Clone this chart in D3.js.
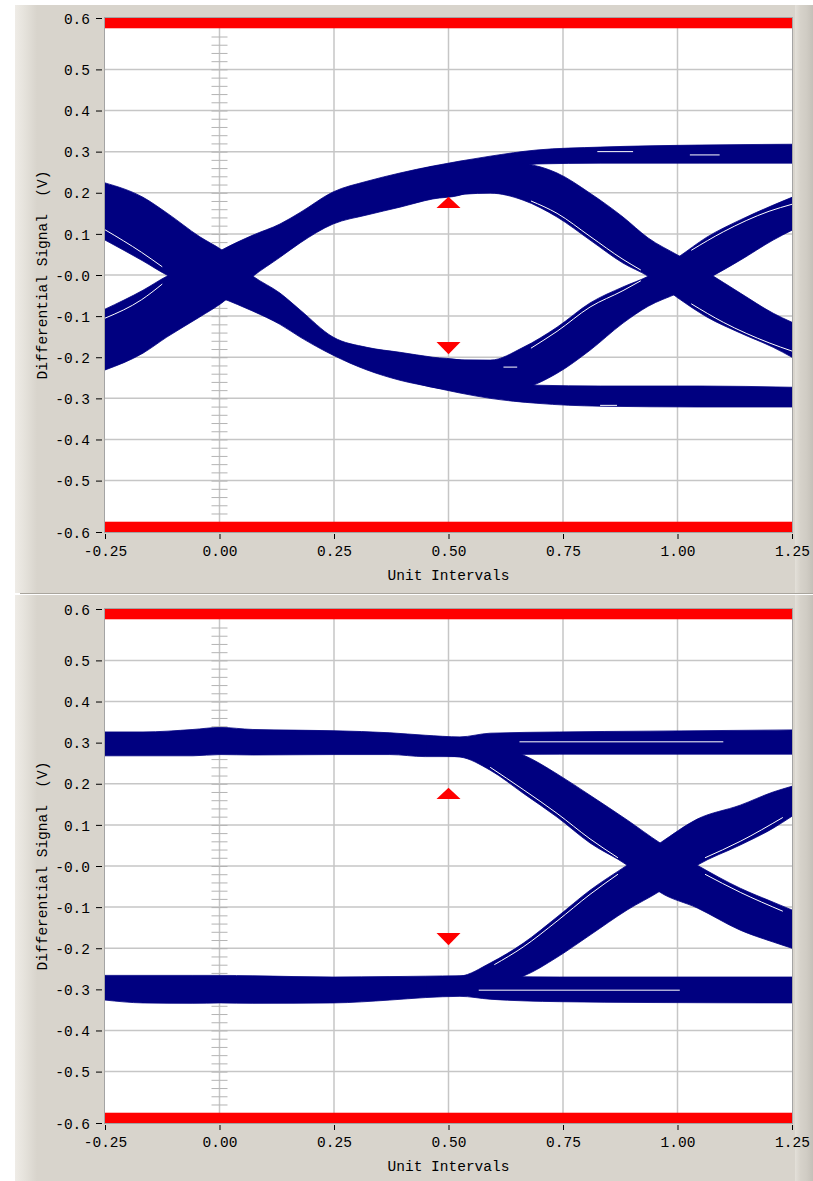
<!DOCTYPE html>
<html>
<head>
<meta charset="utf-8">
<script src="https://cdn.jsdelivr.net/npm/d3@7"></script>
<style>
  body { margin: 0; background: #ffffff; }
  svg { display: block; }
  text { font-family: 'Liberation Mono', 'DejaVu Sans Mono', monospace; font-size: 14.5px; fill: #000; }
</style>
</head>
<body>
<script>
'use strict';

// axis ticks, in unit intervals (x) and volts (y)
const xTicks = [-0.25, 0, 0.25, 0.5, 0.75, 1.0, 1.25];
const xTickLabels = ['-0.25', '0.00', '0.25', '0.50', '0.75', '1.00', '1.25'];
const xGridLines = [0, 0.25, 0.5, 0.75, 1.0];
const yTicks = [0.625, 0.5, 0.4, 0.3, 0.2, 0.1, 0, -0.1, -0.2, -0.3, -0.4, -0.5, -0.625];
const yTickLabels = ['0.6', '0.5', '0.4', '0.3', '0.2', '0.1', '-0.0', '-0.1', '-0.2', '-0.3', '-0.4', '-0.5', '-0.6'];
const yGridLines = [0.5, 0.4, 0.3, 0.2, 0.1, 0, -0.1, -0.2, -0.3, -0.4, -0.5];

// eye mask: red limit bands and the two hexagon tips at 0.5 UI  [UI, base V, apex V]
const maskBands = [[0.6, 0.625], [-0.625, -0.6]];
const maskMarkers = [[0.5, 0.163, 0.190], [0.5, -0.163, -0.193]];

// upper eye: trace bands as [UI, upper edge V, lower edge V]
const eye1Upper = [
  [-0.25, -0.083, -0.231], [-0.167, -0.037, -0.190], [-0.115, -0.003, -0.151],
  [-0.043, 0.031, -0.102], [0.005, 0.061, -0.068], [0.073, 0.097, -0.003],
  [0.132, 0.124, 0.043], [0.176, 0.152, 0.078], [0.248, 0.202, 0.124],
  [0.322, 0.228, 0.146], [0.394, 0.248, 0.165], [0.466, 0.265, 0.185],
  [0.525, 0.277, 0.194], [0.591, 0.289, 0.231], [0.693, 0.304, 0.270],
  [0.831, 0.311, 0.272], [1.049, 0.316, 0.272], [1.25, 0.318, 0.272]
];
const eye1Lower = [
  [-0.25, 0.224, 0.085], [-0.167, 0.189, 0.034], [-0.115, 0.151, 0.000],
  [-0.043, 0.093, -0.034], [0.005, 0.061, -0.056], [0.073, -0.003, -0.088],
  [0.132, -0.044, -0.120], [0.176, -0.085, -0.151], [0.248, -0.151, -0.195],
  [0.322, -0.176, -0.231], [0.394, -0.188, -0.256], [0.466, -0.200, -0.273],
  [0.525, -0.207, -0.287], [0.591, -0.231, -0.300], [0.693, -0.268, -0.312],
  [0.831, -0.270, -0.319], [1.049, -0.270, -0.321], [1.25, -0.273, -0.321]
];
const eye1Fall = [
  [0.400, 0.244, 0.170], [0.481, 0.266, 0.190], [0.591, 0.272, 0.199],
  [0.663, 0.270, 0.182], [0.737, 0.248, 0.141], [0.809, 0.199, 0.085],
  [0.881, 0.141, 0.029], [0.936, 0.090, -0.003], [1.001, 0.048, -0.056],
  [1.064, 0.007, -0.102], [1.137, -0.044, -0.141], [1.209, -0.093, -0.176],
  [1.25, -0.115, -0.200]
];
const eye1Rise = [
  [0.400, -0.192, -0.252], [0.481, -0.204, -0.276], [0.591, -0.207, -0.283],
  [0.663, -0.176, -0.275], [0.737, -0.127, -0.239], [0.809, -0.068, -0.183],
  [0.881, -0.029, -0.117], [0.936, -0.003, -0.076], [1.001, 0.043, -0.044],
  [1.064, 0.092, -0.010], [1.137, 0.134, 0.036], [1.209, 0.170, 0.085],
  [1.25, 0.189, 0.109]
];
// white gaps between single traces of the upper eye  [[UI, V], ...]
const eye1Streaks = [
  [[0.825, 0.300], [0.903, 0.300]],
  [[1.027, 0.292], [1.092, 0.292]],
  [[0.831, -0.317], [0.868, -0.317]],
  [[0.620, -0.224], [0.650, -0.224]],
  [[0.680, 0.180], [0.737, 0.150], [0.809, 0.094], [0.881, 0.038], [0.920, 0.012]],
  [[0.680, -0.178], [0.737, -0.137], [0.809, -0.078], [0.881, -0.038], [0.920, -0.014]],
  [[1.03, -0.070], [1.10, -0.115], [1.20, -0.165], [1.25, -0.185]],
  [[1.03, 0.060], [1.10, 0.105], [1.20, 0.155], [1.25, 0.172]],
  [[-0.25, 0.110], [-0.17, 0.055], [-0.125, 0.020]],
  [[-0.25, -0.105], [-0.17, -0.060], [-0.125, -0.022]]
];

// lower eye
const eye2UpperRail = [
  [-0.25, 0.326, 0.268], [-0.167, 0.326, 0.268], [-0.058, 0.332, 0.268],
  [0.001, 0.337, 0.271], [0.073, 0.332, 0.270], [0.248, 0.329, 0.271],
  [0.372, 0.324, 0.271], [0.449, 0.318, 0.266], [0.525, 0.314, 0.266],
  [0.591, 0.323, 0.270], [0.743, 0.326, 0.272], [0.940, 0.328, 0.272],
  [1.25, 0.331, 0.272]
];
const eye2LowerRail = [
  [-0.25, -0.266, -0.326], [-0.167, -0.266, -0.333], [-0.058, -0.266, -0.334],
  [0.001, -0.266, -0.333], [0.073, -0.267, -0.334], [0.248, -0.270, -0.333],
  [0.372, -0.269, -0.326], [0.449, -0.268, -0.320], [0.525, -0.267, -0.317],
  [0.591, -0.268, -0.324], [0.743, -0.270, -0.330], [0.940, -0.270, -0.332],
  [1.25, -0.270, -0.333]
];
const eye2Fall = [
  [0.450, 0.300, 0.270], [0.525, 0.304, 0.265], [0.591, 0.292, 0.233],
  [0.663, 0.270, 0.177], [0.737, 0.224, 0.119], [0.809, 0.172, 0.056],
  [0.890, 0.112, 0.002], [0.962, 0.056, -0.064], [1.043, 0.002, -0.102],
  [1.137, -0.054, -0.156], [1.209, -0.088, -0.185], [1.25, -0.107, -0.200]
];
const eye2Rise = [
  [0.450, -0.272, -0.315], [0.525, -0.268, -0.300], [0.591, -0.236, -0.287],
  [0.663, -0.188, -0.268], [0.737, -0.124, -0.222], [0.809, -0.059, -0.168],
  [0.890, 0.002, -0.107], [0.962, 0.056, -0.061], [1.043, 0.114, 0.002],
  [1.137, 0.148, 0.051], [1.209, 0.180, 0.092], [1.25, 0.194, 0.121]
];
const eye2Streaks = [
  [[0.655, 0.302], [1.100, 0.302]],
  [[0.566, -0.302], [1.005, -0.302]],
  [[0.591, 0.240], [0.663, 0.186], [0.737, 0.128], [0.809, 0.066], [0.87, 0.020]],
  [[0.600, -0.240], [0.663, -0.197], [0.737, -0.134], [0.809, -0.069], [0.87, -0.020]],
  [[1.06, -0.020], [1.137, -0.064], [1.23, -0.110]],
  [[1.06, 0.020], [1.137, 0.060], [1.23, 0.118]]
];

(function () {

  let svgContainer = ""; // keep SVG reference in scope
  const width = 813;
  const height = 1181;
  const plotLeft = 105, plotRight = 792, plotTop = 18, plotBottom = 532;
  const traceColor = '#000080';

  window.onload = function () {
    svgContainer = d3.select('body')
      .append('svg')
      .attr('width', width)
      .attr('height', height);

    drawFrame();
    makeEyePanel(0, 'eye1', [eye1Upper, eye1Lower, eye1Fall, eye1Rise], eye1Streaks);
    makeEyePanel(591, 'eye2', [eye2UpperRail, eye2LowerRail, eye2Fall, eye2Rise], eye2Streaks);
  }

  // grey window panels behind the two graphs
  function drawFrame() {
    let defs = svgContainer.append('defs');

    let left = defs.append('linearGradient').attr('id', 'leftBevel');
    left.append('stop').attr('offset', '0').attr('stop-color', '#efece7');
    left.append('stop').attr('offset', '0.45').attr('stop-color', '#e5e2db');
    left.append('stop').attr('offset', '1').attr('stop-color', '#d8d4cc');

    let right = defs.append('linearGradient').attr('id', 'rightBevel');
    right.append('stop').attr('offset', '0').attr('stop-color', '#e3e0d9');
    right.append('stop').attr('offset', '0.3').attr('stop-color', '#d6d2ca');
    right.append('stop').attr('offset', '0.65').attr('stop-color', '#d0ccc4');
    right.append('stop').attr('offset', '1').attr('stop-color', '#c4c0b8');

    [[5, 593], [595, 1181]].forEach(function (p) {
      svgContainer.append('rect')
        .attr('x', 15).attr('y', p[0])
        .attr('width', width - 15).attr('height', p[1] - p[0])
        .attr('fill', '#d8d4cc');
      svgContainer.append('rect')
        .attr('x', 15).attr('y', p[0])
        .attr('width', 22).attr('height', p[1] - p[0])
        .attr('fill', 'url(#leftBevel)');
      svgContainer.append('rect')
        .attr('x', 795).attr('y', p[0])
        .attr('width', 18).attr('height', p[1] - p[0])
        .attr('fill', 'url(#rightBevel)');
    });

    // split line between the panels
    svgContainer.append('line')
      .attr('x1', 20).attr('x2', width).attr('y1', 593.5).attr('y2', 593.5)
      .attr('stroke', '#a9a59d');
    svgContainer.append('line')
      .attr('x1', 15).attr('x2', width).attr('y1', 594.5).attr('y2', 594.5)
      .attr('stroke', '#ffffff');
  }

  // one eye diagram with its axes and mask
  function makeEyePanel(offset, id, bands, streaks) {

    let xScale = d3.scaleLinear()
      .domain([-0.25, 1.25])
      .range([plotLeft, plotRight]);

    let yScale = d3.scaleLinear()
      .domain([-0.625, 0.625])
      .range([plotBottom + offset, plotTop + offset]);

    // plot background
    svgContainer.append('rect')
      .attr('x', plotLeft).attr('y', plotTop + offset)
      .attr('width', plotRight - plotLeft).attr('height', plotBottom - plotTop)
      .attr('fill', '#ffffff');

    svgContainer.append('clipPath')
      .attr('id', 'clip-' + id)
      .append('rect')
      .attr('x', plotLeft).attr('y', plotTop + offset)
      .attr('width', plotRight - plotLeft).attr('height', plotBottom - plotTop);

    let plot = svgContainer.append('g')
      .attr('clip-path', 'url(#clip-' + id + ')');

    // grid lines
    plot.selectAll('.hgrid')
      .data(yGridLines)
      .enter()
      .append('line')
      .attr('x1', plotLeft).attr('x2', plotRight)
      .attr('y1', (d) => yScale(d)).attr('y2', (d) => yScale(d))
      .attr('stroke', '#c6c6c6')
      .attr('stroke-width', 1.5);

    plot.selectAll('.vgrid')
      .data(xGridLines)
      .enter()
      .append('line')
      .attr('x1', (d) => xScale(d)).attr('x2', (d) => xScale(d))
      .attr('y1', plotTop + offset).attr('y2', plotBottom + offset)
      .attr('stroke', '#c6c6c6')
      .attr('stroke-width', 1.5);

    // ruler of small ticks on the 0 UI line
    let ladderTicks = yScale.ticks(60).filter((v) => Math.abs(v) < 0.585);
    [d3.axisLeft(yScale), d3.axisRight(yScale)].forEach(function (ax) {
      plot.append('g')
        .attr('transform', 'translate(' + xScale(0) + ',0)')
        .call(ax.tickValues(ladderTicks).tickSize(8).tickFormat(''))
        .call((g) => g.select('.domain').remove())
        .selectAll('line')
        .attr('stroke', '#b4b4b4');
    });

    // trace bands
    let area = d3.area()
      .x((d) => xScale(d[0]))
      .y0((d) => yScale(d[2]))
      .y1((d) => yScale(d[1]))
      .curve(d3.curveMonotoneX);

    plot.selectAll('.band')
      .data(bands)
      .enter()
      .append('path')
      .attr('d', area)
      .attr('fill', traceColor)
      .attr('stroke', traceColor)
      .attr('stroke-width', 0.8);

    let line = d3.line()
      .x((d) => xScale(d[0]))
      .y((d) => yScale(d[1]))
      .curve(d3.curveMonotoneX);

    plot.selectAll('.streak')
      .data(streaks)
      .enter()
      .append('path')
      .attr('d', line)
      .attr('stroke', '#ffffff')
      .attr('stroke-width', 1)
      .attr('fill', 'none');

    // red mask limits
    plot.selectAll('.mask')
      .data(maskBands)
      .enter()
      .append('rect')
      .attr('x', plotLeft).attr('width', plotRight - plotLeft)
      .attr('y', (d) => yScale(d[1]))
      .attr('height', (d) => yScale(d[0]) - yScale(d[1]))
      .attr('fill', '#ff0000');

    plot.selectAll('.marker')
      .data(maskMarkers)
      .enter()
      .append('path')
      .attr('d', function (d) {
        let cx = xScale(d[0]);
        return d3.line()([[cx - 12, yScale(d[1])], [cx + 12, yScale(d[1])], [cx, yScale(d[2])]]) + 'Z';
      })
      .attr('fill', '#ff0000');

    // plot border
    svgContainer.append('rect')
      .attr('x', plotLeft - 0.5).attr('y', plotTop + offset - 0.5)
      .attr('width', plotRight - plotLeft + 1).attr('height', plotBottom - plotTop + 1)
      .attr('fill', 'none')
      .attr('stroke', '#a4a4a4');

    drawAxes(xScale, yScale, offset);
    makeLabels(offset);
  }

  // draw the axes and ticks
  function drawAxes(xScale, yScale, offset) {
    let yAxis = d3.axisLeft(yScale)
      .tickValues(yTicks)
      .tickFormat((d, i) => yTickLabels[i])
      .tickSize(6)
      .tickPadding(6);

    let yg = svgContainer.append('g')
      .attr('transform', 'translate(102, 0)')
      .call(yAxis);
    yg.select('.domain').remove();
    yg.selectAll('line').attr('stroke', '#000');
    yg.selectAll('text').attr('dy', '0.36em');

    let xAxis = d3.axisBottom(xScale)
      .tickValues(xTicks)
      .tickFormat((d, i) => xTickLabels[i])
      .tickSize(5);

    let xg = svgContainer.append('g')
      .attr('transform', 'translate(0, ' + (plotBottom + offset + 2) + ')')
      .call(xAxis);
    xg.select('.domain').remove();
    xg.selectAll('line').attr('stroke', '#000');
    xg.selectAll('text').attr('y', 22).attr('dy', 0);
  }

  // axes titles
  function makeLabels(offset) {
    svgContainer.append('text')
      .attr('x', (plotLeft + plotRight) / 2)
      .attr('y', 580 + offset)
      .attr('text-anchor', 'middle')
      .text('Unit Intervals');

    svgContainer.append('text')
      .attr('transform', 'translate(47, ' + (275 + offset) + ')rotate(-90)')
      .attr('text-anchor', 'middle')
      .text('Differential Signal\u00a0 (V)');
  }

})();
</script>
</body>
</html>
